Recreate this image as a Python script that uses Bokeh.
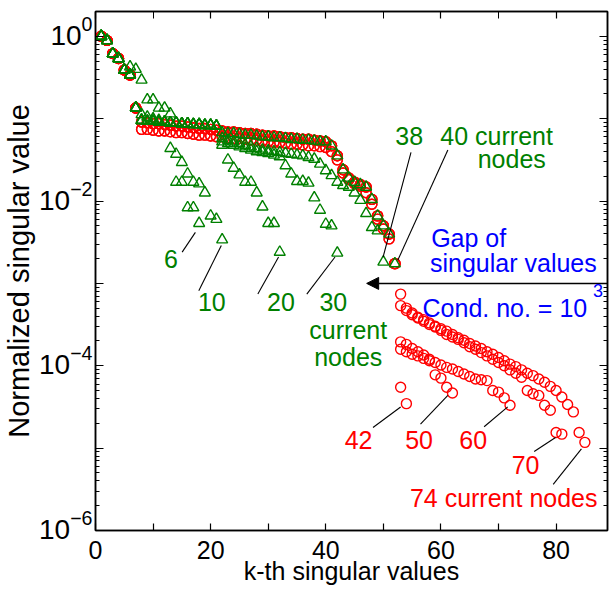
import numpy as np
from bokeh.plotting import figure
from bokeh.models import (Label, Arrow, NormalHead, FixedTicker, LinearAxis, LogAxis,
                          LogTickFormatter, Range1d, LogScale)
from bokeh.embed import file_html
from bokeh.resources import INLINE

# ---------------- data: log10(normalized singular value), k = 1, 2, 3 ...
head_log10 = [0.00, -0.05, -0.21, -0.27, -0.41, -0.47, -0.87]            # k 1-7
green_band_log10 = [-1.02, -1.03, -1.03, -1.04, -1.04, -1.05, -1.05,
                    -1.06, -1.06, -1.07, -1.07, -1.08, -1.08, -1.09]      # k 8-21

s6_rest = [-0.37, -0.40, -0.53, -0.77, -0.77, -0.87, -0.87, -0.94,
           -1.77, -1.77, -2.08, -2.08, -2.27]                               # k 6-18
s10_rest = [-0.95, -0.98, -1.00, -1.02, -1.04, -1.36, -1.43, -1.53,
            -1.67, -1.77, -1.79, -1.90, -2.18, -2.22, -2.47]                # k 8-22
s20_tail = [-1.32, -1.50, -1.60, -1.68, -1.77, -1.77, -1.90, -2.07,
            -2.27, -2.27, -2.62]                                            # k 22-32
s30_mid = [-1.28, -1.30, -1.32, -1.34, -1.36, -1.38, -1.40, -1.41,
           -1.42, -1.44, -1.46]                                             # k 22-32
s30_tail = [-1.57, -1.67, -1.76, -1.76, -1.78, -1.96, -2.11, -2.28,
            -2.30, -2.63]                                                   # k 33-42
s38_mid = [-1.24, -1.26, -1.28, -1.30, -1.32, -1.34, -1.36, -1.38, -1.39,
           -1.40, -1.41, -1.42, -1.43, -1.44, -1.45, -1.47, -1.49, -1.55]   # k 22-39
s38_tail = [-1.63, -1.69, -1.77, -1.81, -1.83, -1.90, -1.99, -2.15,
            -2.32, -2.36, -2.74]                                            # k 40-50
s40_mid = [-1.17, -1.18, -1.18, -1.19, -1.20, -1.20, -1.21, -1.22, -1.22,
           -1.23, -1.23, -1.24, -1.25, -1.25, -1.26, -1.26, -1.27, -1.28,
           -1.28]                                                           # k 22-40

redA_band = [-1.04, -1.05, -1.06, -1.06, -1.07, -1.08, -1.09, -1.09, -1.10,
             -1.11, -1.12, -1.12, -1.13, -1.14, -1.15, -1.16, -1.16, -1.17,
             -1.18, -1.18, -1.19, -1.20, -1.21, -1.21, -1.22, -1.23, -1.23,
             -1.24, -1.25, -1.25, -1.26, -1.27, -1.28]                      # k 8-40
redB_band = [-1.13, -1.13, -1.14, -1.15, -1.15, -1.16, -1.17, -1.17, -1.18,
             -1.19, -1.20, -1.20, -1.21, -1.22, -1.22, -1.23, -1.24, -1.24,
             -1.25, -1.26, -1.26, -1.27, -1.28, -1.29, -1.29, -1.30, -1.31,
             -1.31, -1.32, -1.33, -1.33, -1.34, -1.35]                      # k 8-40
redA_cliff = [-1.33, -1.45, -1.62, -1.72, -1.77, -1.80, -1.83, -1.98,
              -2.18, -2.30, -2.40, -2.76]                                   # k 41-52
redB_cliff = [-1.40, -1.50, -1.66, -1.74, -1.79, -1.82, -1.90, -2.04,
              -2.22, -2.34, -2.46, -2.76]                                   # k 41-52

r42_tail = [-4.26, -4.46]                                                   # k 53-54
r50_tail = [-3.71, -3.74, -3.79, -3.83, -3.87, -3.92, -4.11, -4.15,
            -4.26, -4.33]                                                   # k 53-62
r60_tail = [-3.80, -3.83, -3.86, -3.88, -3.91, -3.94, -3.96, -3.99, -4.02,
            -4.04, -4.07, -4.10, -4.13, -4.16, -4.17, -4.18, -4.30, -4.32,
            -4.39, -4.48]                                                   # k 53-72
r70_tail = [-3.27, -3.33, -3.38, -3.42, -3.46, -3.50, -3.53, -3.57, -3.62,
            -3.65, -3.68, -3.72, -3.77, -3.80, -3.84, -3.88, -3.92, -3.96,
            -4.00, -4.05, -4.09, -4.14, -4.30, -4.34, -4.36, -4.48, -4.54,
            -4.81, -4.83]                                                   # k 53-81
r74_tail = [-3.13, -3.30, -3.36, -3.41, -3.44, -3.48, -3.52, -3.55, -3.58,
            -3.62, -3.66, -3.69, -3.73, -3.76, -3.79, -3.83, -3.86, -3.90,
            -3.94, -3.98, -4.01, -4.05, -4.09, -4.12, -4.16, -4.20, -4.25,
            -4.30, -4.38, -4.47, -4.56, -4.81, -4.93]                       # k 53-85

y_label_exponents = [0, -2, -4, -6]
x_ticks = [0, 20, 40, 60, 80]
x_minor_ticks = [10, 30, 50, 70]

# ---------------- series assembly
redA = head_log10 + redA_band + redA_cliff
redB = head_log10 + redB_band + redB_cliff
red_series = {
    42: redA + r42_tail,
    50: redB + r50_tail,
    60: redA + r60_tail,
    70: redB + r70_tail,
    74: redA + r74_tail,
}
green_series = {
    6: head_log10[:5] + s6_rest,
    10: head_log10 + s10_rest,
    20: head_log10 + green_band_log10 + s20_tail,
    30: head_log10 + green_band_log10 + s30_mid + s30_tail,
    38: head_log10 + green_band_log10 + s38_mid + s38_tail,
    40: head_log10 + green_band_log10 + s40_mid + redA_cliff,
}

GREEN = "#008000"
RED = "#ff0000"
BLUE = "#0000ff"
FONT = "Liberation Sans"
X_MAX = 88.93
Y_MIN, Y_MAX = 1e-6, 2.0
PX_PER_DECADE = 519.0 / np.log10(Y_MAX / Y_MIN)
LABEL_LIFT = 10.0 ** (-6.0 / PX_PER_DECADE)   # raise tick labels ~6 px

p = figure(width=612, height=591, x_range=(0, X_MAX), y_range=(Y_MIN, Y_MAX),
           y_axis_type="log", output_backend="svg", toolbar_location=None,
           min_border_left=93, min_border_right=5, min_border_top=11,
           min_border_bottom=61)
p.extra_y_ranges = {"ylab": Range1d(Y_MIN * LABEL_LIFT, Y_MAX * LABEL_LIFT)}
p.extra_y_scales = {"ylab": LogScale()}
p.xgrid.visible = False
p.ygrid.visible = False
p.outline_line_color = "black"
p.outline_line_width = 1.5
p.background_fill_color = "white"
p.border_fill_color = "white"

y_all_major = [10.0 ** e for e in range(-6, 1)]
y_minor = [m * 10.0 ** e for e in range(-6, 0) for m in range(2, 10)]

def hide_labels(ax):
    ax.major_label_text_font_size = "1px"
    ax.major_label_text_color = None
    ax.major_label_standoff = 0

def tick_style(ax, major_len, minor_len):
    ax.major_tick_in = major_len
    ax.major_tick_out = 0
    ax.minor_tick_in = minor_len
    ax.minor_tick_out = 0
    ax.axis_line_width = 1.5
    ax.major_tick_line_width = 1.2
    ax.minor_tick_line_width = 1.0

# bottom axis
xa = p.xaxis[0]
xa.ticker = FixedTicker(ticks=x_ticks, minor_ticks=x_minor_ticks)
tick_style(xa, 7, 7)
xa.minor_tick_line_width = 1.2
xa.major_label_text_font = FONT
xa.major_label_text_font_size = "25px"
xa.major_label_text_color = "black"
xa.major_label_standoff = 10
xa.axis_label = "k-th singular values"
xa.axis_label_text_font = FONT
xa.axis_label_text_font_size = "25px"
xa.axis_label_text_font_style = "normal"
xa.axis_label_text_color = "black"
xa.axis_label_standoff = -5

# left axis: tick marks only
ya = p.yaxis[0]
ya.ticker = FixedTicker(ticks=y_all_major, minor_ticks=y_minor)
tick_style(ya, 8, 4)
hide_labels(ya)

# left axis: decade labels 10^0, 10^-2, ... and the axis title
ylab = LogAxis(y_range_name="ylab")
ylab.ticker = FixedTicker(ticks=[10.0 ** e for e in y_label_exponents], minor_ticks=[])
ylab.formatter = LogTickFormatter()
ylab.major_tick_in = 0
ylab.major_tick_out = 0
ylab.minor_tick_in = 0
ylab.minor_tick_out = 0
ylab.axis_line_color = None
ylab.major_tick_line_color = None
ylab.minor_tick_line_color = None
ylab.major_label_text_font = FONT
ylab.major_label_text_font_size = "28px"
ylab.major_label_text_color = "black"
ylab.major_label_standoff = 3
ylab.axis_label = "Normalized singular value"
ylab.axis_label_text_font = FONT
ylab.axis_label_text_font_size = "29px"
ylab.axis_label_text_font_style = "normal"
ylab.axis_label_text_color = "black"
ylab.axis_label_standoff = 1
p.add_layout(ylab, "left")

# mirrored top / right axes
top_ax = LinearAxis()
top_ax.ticker = FixedTicker(ticks=x_ticks, minor_ticks=x_minor_ticks)
tick_style(top_ax, 7, 7)
hide_labels(top_ax)
p.add_layout(top_ax, "above")
right_ax = LogAxis()
right_ax.ticker = FixedTicker(ticks=y_all_major, minor_ticks=y_minor)
tick_style(right_ax, 8, 4)
hide_labels(right_ax)
p.add_layout(right_ax, "right")

# ---------------- markers
for n, vals in red_series.items():
    k = np.arange(1, len(vals) + 1)
    p.scatter(k, 10.0 ** np.array(vals), marker="circle", size=10,
              line_color=RED, fill_color=None, line_width=1.4)
for n, vals in green_series.items():
    k = np.arange(1, len(vals) + 1)
    p.scatter(k, 10.0 ** np.array(vals), marker="triangle", size=11,
              line_color=GREEN, fill_color=None, line_width=1.4)

# ---------------- pointer lines (annotation geometry: x, log10 y)
pointers = [
    (15.05, -2.62, 17.35, -2.38), (17.94, -3.09, 21.85, -2.54),
    (28.2, -3.13, 31.8, -2.68), (36.7, -3.13, 41.6, -2.68),
    (54.8, -1.41, 49.95, -2.68), (61.2, -1.38, 52.5, -2.72),
    (48.2, -4.75, 53.0, -4.50), (56.45, -4.71, 61.2, -4.36),
    (67.5, -4.74, 71.6, -4.50), (76.2, -5.04, 79.9, -4.87),
    (79.5, -5.44, 84.4, -5.01),
]
p.segment([a[0] for a in pointers], [10 ** a[1] for a in pointers],
          [a[2] for a in pointers], [10 ** a[3] for a in pointers],
          line_color="black", line_width=1.1)

# ---------------- gap arrow
p.add_layout(Arrow(end=NormalHead(size=12, fill_color="black", line_color="black"),
                   x_start=X_MAX + 1, y_start=1e-3, x_end=47.1, y_end=1e-3,
                   line_color="black", line_width=1.5))

# ---------------- text annotations (x, log10 y, text, colour, align)
notes = [
    (13.1, -2.70, "6", GREEN, "center"),
    (20.2, -3.23, "10", GREEN, "center"),
    (32.2, -3.23, "20", GREEN, "center"),
    (38.9, -3.23, "30", GREEN, "left"),
    (43.9, -3.57, "current", GREEN, "center"),
    (43.9, -3.89, "nodes", GREEN, "center"),
    (54.5, -1.215, "38", GREEN, "center"),
    (59.9, -1.215, "40 current", GREEN, "left"),
    (72.3, -1.49, "nodes", GREEN, "center"),
    (58.3, -2.45, "Gap of", BLUE, "left"),
    (58.1, -2.75, "singular values", BLUE, "left"),
    (56.8, -3.30, "Cond. no. = 10", BLUE, "left"),
    (45.7, -4.90, "42", RED, "center"),
    (56.2, -4.90, "50", RED, "center"),
    (65.6, -4.90, "60", RED, "center"),
    (74.7, -5.21, "70", RED, "center"),
    (70.9, -5.61, "74 current nodes", RED, "center"),
]
for x, ly, t, c, al in notes:
    p.add_layout(Label(x=x, y=10 ** ly, text=t, text_color=c, text_font=FONT,
                       text_font_size="25px", text_align=al, text_baseline="middle"))
p.add_layout(Label(x=86.4, y=10 ** -3.09, text="3", text_color=BLUE, text_font=FONT,
                   text_font_size="18px", text_align="left", text_baseline="middle"))

open("out.html", "w").write(file_html(p, INLINE))
